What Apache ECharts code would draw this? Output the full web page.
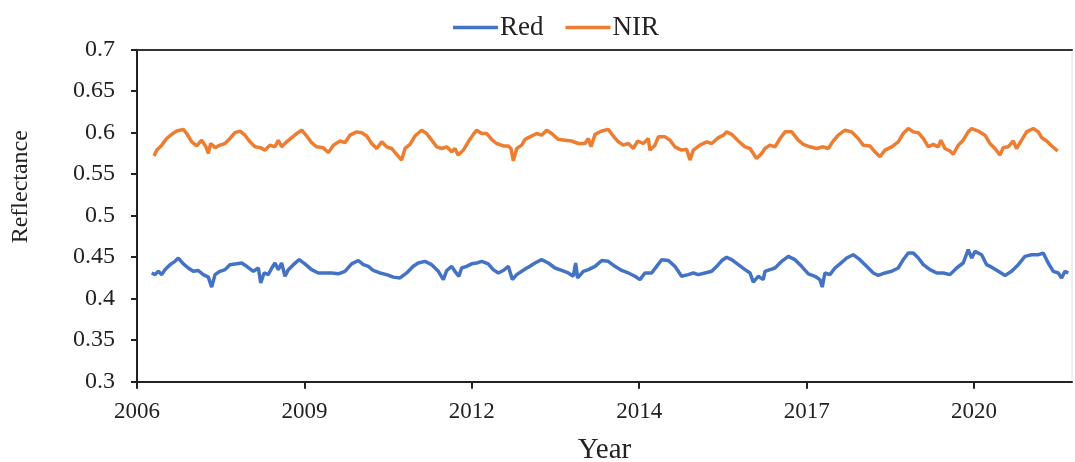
<!DOCTYPE html>
<html>
<head>
<meta charset="utf-8">
<script src="https://cdn.jsdelivr.net/npm/echarts@6/dist/echarts.min.js"></script>
<style>html,body{margin:0;padding:0;background:#fff}#c{width:1075px;height:462px}</style>
</head>
<body>
<div id="c"></div>
<script>
// x in days from the axis origin; tick every 1000 days
const tickDays = [0, 1000, 2000, 3000, 4000, 5000];
const tickLabels = ['2006', '2009', '2012', '2014', '2017', '2020'];
const axisMaxDay = 5585;

const nirDays = [102,118,148,177,207,237,277,297,327,357,386,412,426,440,466,496,526,555,585,615,645,675,705,735,765,794,824,844,864,894,924,954,984,1014,1043,1073,1113,1143,1173,1213,1242,1272,1312,1342,1372,1402,1432,1462,1491,1521,1551,1581,1601,1631,1660,1700,1730,1760,1790,1820,1850,1880,
1899,1919,1949,1979,2009,2029,2059,2089,2118,2148,2188,2218,2234,2248,2268,2298,2318,2347,2387,2417,2447,2477,2516,2556,2596,2636,2676,2696,2712,2736,2776,2815,2845,2875,2905,2935,2965,2991,3024,3054,3064,3094,3114,3154,3184,3213,3253,3283,3303,3323,3363,3403,3433,3473,3503,3522,3552,3592,3632,3662,3701,3731,
3751,3781,3811,3841,3871,3911,3950,3980,4020,4060,4099,4129,4159,4189,4229,4269,4308,4338,4378,4408,4438,4468,4508,4547,4577,4607,4637,4667,4697,4727,4756,4786,4802,4826,4856,4876,4906,4935,4965,4986,5025,5065,5095,5125,5155,5174,5204,5234,5254,5284,5314,5354,5384,5404,5434,5464,5499];
const nirValues = [0.572,0.579,0.585,0.593,0.598,0.602,0.604,0.599,0.589,0.584,0.591,0.583,0.575,0.587,0.582,0.585,0.587,0.593,0.600,0.602,0.597,0.589,0.583,0.582,0.579,0.585,0.583,0.591,0.583,0.589,0.594,0.599,0.603,0.596,0.588,0.583,0.582,0.576,0.585,0.590,0.588,0.597,0.601,0.600,0.596,0.587,0.581,0.589,0.583,0.581,0.574,0.567,0.581,0.586,0.596,0.603,0.599,0.591,0.583,0.581,0.583,0.577,
0.581,0.573,0.579,0.589,0.598,0.603,0.599,0.599,0.592,0.587,0.584,0.584,0.581,0.566,0.581,0.585,0.592,0.595,0.599,0.597,0.603,0.599,0.592,0.591,0.590,0.587,0.587,0.593,0.583,0.598,0.602,0.604,0.596,0.589,0.585,0.587,0.581,0.590,0.587,0.593,0.579,0.585,0.595,0.595,0.591,0.583,0.579,0.580,0.567,0.579,0.585,0.589,0.587,0.594,0.597,0.601,0.598,0.590,0.583,0.581,0.569,0.575,
0.581,0.585,0.583,0.593,0.601,0.601,0.591,0.586,0.583,0.581,0.583,0.581,0.590,0.597,0.603,0.601,0.593,0.585,0.584,0.577,0.571,0.579,0.583,0.589,0.599,0.605,0.601,0.600,0.593,0.583,0.586,0.583,0.591,0.581,0.578,0.574,0.585,0.591,0.601,0.605,0.602,0.597,0.587,0.581,0.573,0.582,0.583,0.590,0.581,0.591,0.601,0.605,0.601,0.594,0.590,0.584,0.578];

const redDays = [88,108,127,148,167,197,227,247,277,306,336,366,396,426,446,466,496,526,555,595,625,655,695,725,739,759,784,805,824,844,864,884,904,934,969,1003,1043,1083,1123,1163,1202,1242,1282,1322,1352,1382,1411,1451,1491,1531,1571,1611,1650,1680,1720,1760,1800,1830,1850,1880,
1899,1923,1939,1969,1999,2029,2059,2098,2128,2158,2188,2218,2242,2268,2298,2328,2347,2377,2417,2457,2497,2537,2576,2606,2620,2632,2666,2696,2736,2776,2815,2855,2895,2935,2975,3004,3034,3074,3104,3134,3174,3213,3253,3293,3323,3353,3393,3433,3463,3493,3522,3552,3592,3632,3662,3681,3711,3741,
3751,3781,3811,3851,3890,3930,3970,4010,4050,4079,4093,4109,4139,4169,4199,4239,4278,4318,4358,4398,4428,4468,4508,4547,4577,4607,4637,4667,4697,4737,4777,4816,4856,4896,4935,4965,4986,5005,5045,5075,5105,5145,5185,5224,5264,5304,5344,5384,5413,5443,5473,5503,5523,5543,5563];
const redValues = [0.431,0.429,0.433,0.429,0.435,0.441,0.445,0.449,0.442,0.437,0.433,0.434,0.429,0.426,0.414,0.429,0.433,0.435,0.441,0.442,0.443,0.439,0.433,0.437,0.419,0.431,0.429,0.437,0.443,0.435,0.443,0.427,0.435,0.441,0.447,0.442,0.435,0.431,0.431,0.431,0.430,0.433,0.442,0.446,0.441,0.439,0.434,0.431,0.429,0.426,0.425,0.431,0.439,0.443,0.445,0.441,0.433,0.423,0.434,0.439,
0.433,0.427,0.437,0.439,0.442,0.443,0.445,0.442,0.435,0.431,0.434,0.439,0.423,0.429,0.433,0.437,0.439,0.443,0.447,0.443,0.437,0.434,0.431,0.427,0.443,0.425,0.433,0.435,0.439,0.446,0.445,0.439,0.434,0.431,0.427,0.423,0.431,0.431,0.439,0.447,0.446,0.439,0.427,0.429,0.431,0.429,0.431,0.433,0.439,0.446,0.450,0.447,0.441,0.435,0.431,0.420,0.427,0.423,
0.433,0.435,0.437,0.445,0.451,0.447,0.439,0.430,0.427,0.423,0.414,0.431,0.429,0.437,0.442,0.449,0.453,0.447,0.439,0.431,0.428,0.431,0.433,0.437,0.447,0.455,0.455,0.449,0.441,0.435,0.431,0.431,0.429,0.437,0.443,0.459,0.449,0.457,0.453,0.441,0.438,0.433,0.428,0.433,0.441,0.451,0.453,0.453,0.455,0.443,0.433,0.431,0.425,0.433,0.431];

const pair = (xs, ys) => xs.map((x, i) => [x, ys[i]]);
const serif = 'Liberation Serif';

const chart = echarts.init(document.getElementById('c'), null, {renderer: 'canvas'});
chart.setOption({
  animation: false,
  backgroundColor: '#fff',
  textStyle: {fontFamily: serif},
  legend: {
    top: 9, left: 448,
    icon: 'rect', itemWidth: 45, itemHeight: 3.5, itemGap: 22,
    textStyle: {fontFamily: serif, fontSize: 27, color: '#222', padding: [0, 0, 0, -3]},
    data: ['Red', 'NIR']
  },
  grid: {left: 137, right: 3, top: 49.7, bottom: 80.3, outerBoundsMode: 'none', containLabel: false,
    show: true, borderColor: '#e0e0e0', borderWidth: 1},
  xAxis: [{
    type: 'value', min: 0, max: axisMaxDay,
    name: 'Year', nameLocation: 'middle', nameGap: 54,
    nameTextStyle: {fontFamily: serif, fontSize: 29, color: '#222'},
    axisLine: {show: true, lineStyle: {color: '#222', width: 2}},
    axisTick: {show: true, length: 7, lineStyle: {color: '#222', width: 2}, customValues: tickDays},
    axisLabel: {fontFamily: serif, fontSize: 23, color: '#222', margin: 19, customValues: tickDays,
      formatter: v => tickLabels[tickDays.indexOf(Math.round(v))] || ''},
    splitLine: {show: false}
  }, {
    type: 'value', position: 'top', min: 0, max: axisMaxDay,
    axisLine: {show: true, lineStyle: {color: '#333', width: 2}},
    axisTick: {show: false}, axisLabel: {show: false}, splitLine: {show: false}
  }],
  yAxis: {
    type: 'value', min: 0.3, max: 0.7, interval: 0.05,
    name: 'Reflectance', nameLocation: 'middle', nameGap: 104,
    nameTextStyle: {fontFamily: serif, fontSize: 24, color: '#222', padding: [0, 0, 0, 58]},
    axisLine: {show: true, lineStyle: {color: '#222', width: 2}},
    axisTick: {show: true, length: 6, lineStyle: {color: '#222', width: 2}},
    axisLabel: {fontFamily: serif, fontSize: 24, color: '#222', margin: 22,
      formatter: v => String(parseFloat(v.toFixed(2)))},
    splitLine: {show: false}
  },
  series: [
    {name: 'Red', type: 'line', data: pair(redDays, redValues), showSymbol: false, symbol: 'none',
      lineStyle: {color: '#4472C4', width: 3.5}, itemStyle: {color: '#4472C4'}},
    {name: 'NIR', type: 'line', data: pair(nirDays, nirValues), showSymbol: false, symbol: 'none',
      lineStyle: {color: '#ED7D31', width: 3.5}, itemStyle: {color: '#ED7D31'}}
  ]
});
</script>
</body>
</html>
